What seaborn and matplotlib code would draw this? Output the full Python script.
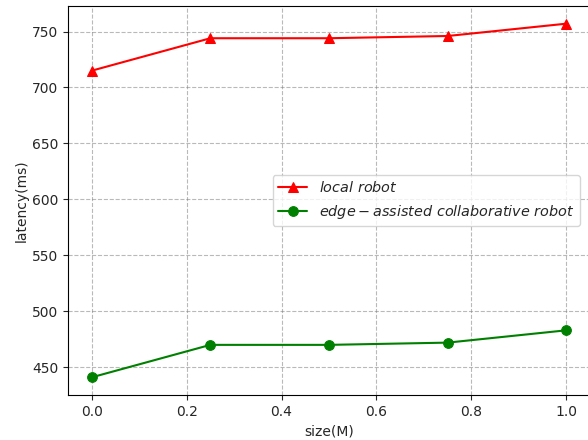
import pandas as pd
import seaborn as sns
import matplotlib.pyplot as plt

# data
sizes = [0.0, 0.25, 0.5, 0.75, 1.0]
local_latency = [715, 744, 744, 746, 757]
edge_latency = [441, 470, 470, 472, 483]

df = pd.DataFrame({"size": sizes, "local": local_latency, "edge": edge_latency})

sns.set_style("ticks")
plt.rcParams['font.family'] = ['DejaVu Sans']

fig = plt.figure(figsize=(5.88, 4.40), dpi=100)
ax = fig.add_axes([68 / 588, 45 / 440, 522 / 588, 389 / 440])

sns.lineplot(data=df, x="size", y="local", ax=ax, color="red", marker="^",
             markersize=7, markeredgecolor="red", label=r"$local\ robot$")
sns.lineplot(data=df, x="size", y="edge", ax=ax, color="green", marker="o",
             markersize=7, markeredgecolor="green",
             label=r"$edge-assisted\ collaborative\ robot$")

ax.grid(True, linestyle="--", color="gray", alpha=0.55)
ax.set_xlabel("size(M)")
ax.set_ylabel("latency(ms)", labelpad=2)
ax.set_xticks([0.0, 0.2, 0.4, 0.6, 0.8, 1.0])
for s in ax.spines.values():
    s.set_visible(True)
    s.set_color("black")
ax.legend(loc="center right", bbox_to_anchor=(0.995, 0.5), fontsize=10.4)

fig.savefig("out.png", dpi=100)
